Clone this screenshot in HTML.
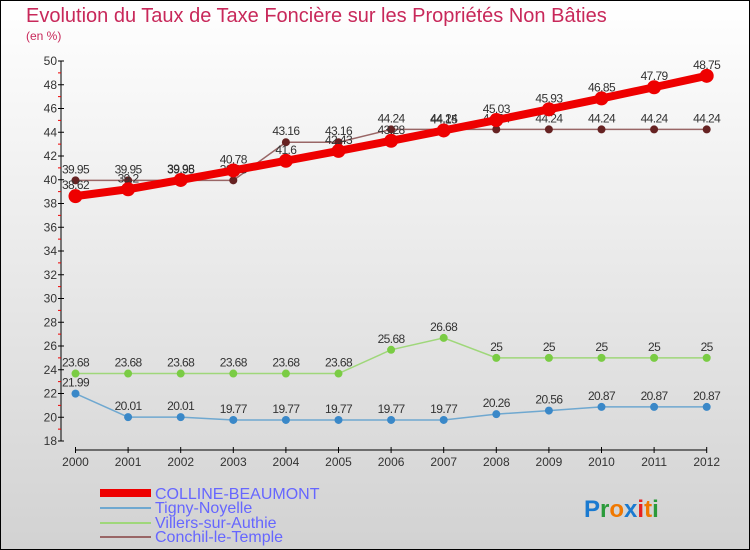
<!DOCTYPE html>
<html><head><meta charset="utf-8"><style>
body{margin:0}
svg{display:block;font-family:"Liberation Sans","DejaVu Sans",sans-serif}
</style></head><body>
<svg id="c" width="750" height="550" xmlns="http://www.w3.org/2000/svg">
<defs><linearGradient id="bg" x1="0" y1="0" x2="0" y2="1"><stop offset="0" stop-color="#ffffff"/><stop offset="1" stop-color="#d2d2d2"/></linearGradient></defs>
<rect x="0.5" y="0.5" width="749" height="549" fill="url(#bg)" stroke="#000"/>
<text x="26" y="22" font-size="20" fill="#c8285a">Evolution du Taux de Taxe Foncière sur les Propriétés Non Bâties</text>
<text x="26" y="40" font-size="12" fill="#c8285a">(en %)</text>
<g id="axes"></g><g id="series"></g>
<g>
<rect x="100" y="489" width="51" height="8" fill="#e00"/>
<text x="155" y="499" font-size="16" fill="#6666ff">COLLINE-BEAUMONT</text>
<line x1="100" y1="508" x2="151" y2="508" stroke="#6fa8d0" stroke-width="2"/>
<text x="155" y="513" font-size="16" fill="#6666ff">Tigny-Noyelle</text>
<line x1="100" y1="523" x2="151" y2="523" stroke="#9fd77a" stroke-width="2"/>
<text x="155" y="528" font-size="16" fill="#6666ff">Villers-sur-Authie</text>
<line x1="100" y1="537" x2="151" y2="537" stroke="#996666" stroke-width="2"/>
<text x="155" y="542" font-size="16" fill="#6666ff">Conchil-le-Temple</text>
</g>
<text x="584" y="517" font-size="24" font-weight="bold"><tspan fill="#1a7ad0">P</tspan><tspan fill="#2a9a3a">r</tspan><tspan fill="#f07800">o</tspan><tspan fill="#1a7ad0">x</tspan><tspan fill="#e82020">i</tspan><tspan fill="#f07800">t</tspan><tspan fill="#2a9a3a">i</tspan></text>
</svg>
<script>
const years=[2000,2001,2002,2003,2004,2005,2006,2007,2008,2009,2010,2011,2012];
const yTicks=[18,20,22,24,26,28,30,32,34,36,38,40,42,44,46,48,50];
const colline=[38.62,39.2,39.98,40.78,41.6,42.43,43.28,44.15,45.03,45.93,46.85,47.79,48.75];
const tigny=[21.99,20.01,20.01,19.77,19.77,19.77,19.77,19.77,20.26,20.56,20.87,20.87,20.87];
const villers=[23.68,23.68,23.68,23.68,23.68,23.68,25.68,26.68,25,25,25,25,25];
const conchil=[39.95,39.95,39.95,39.95,43.16,43.16,44.24,44.24,44.24,44.24,44.24,44.24,44.24];
const NS="http://www.w3.org/2000/svg";
const X=i=>75.5+i*52.6;
const Y=v=>441-(v-18)*11.875;
function mk(t,a,p){const e=document.createElementNS(NS,t);for(const k in a)e.setAttribute(k,a[k]);p.appendChild(e);return e;}
const ax=document.getElementById('axes'),se=document.getElementById('series');
let l=mk('line',{x1:61,y1:61,x2:61,y2:441,stroke:'#000'},ax);


l=mk('line',{x1:75,y1:450,x2:707,y2:450,stroke:'#000'},ax);


yTicks.forEach(v=>{
 mk('line',{x1:58,x2:64,y1:Y(v),y2:Y(v),stroke:'#000'},ax);
 if(v<50)mk('line',{x1:58,x2:61,y1:Y(v+1),y2:Y(v+1),stroke:'#e00'},ax);
 const t=mk('text',{x:57,y:Y(v)+4,'font-size':12,'text-anchor':'end',fill:'#333'},ax);t.textContent=v;
 
 
});
years.forEach((y,i)=>{
 mk('line',{x1:X(i),x2:X(i),y1:447,y2:453,stroke:'#000'},ax);
 const t=mk('text',{x:X(i),y:466,'font-size':12,'text-anchor':'middle',fill:'#333'},ax);t.textContent=y;
 
 
});
function series(d,name,col,w,r,fill){
 const g=mk('g',{},se);
 
 
 const p=mk('polyline',{points:d.map((v,i)=>X(i)+','+Y(v)).join(' '),fill:'none',stroke:col,'stroke-width':w},g);
 
 
 d.forEach((v,i)=>{
  const c=mk('circle',{cx:X(i),cy:Y(v),r:r,fill:fill},g);
  
  
  const t=mk('text',{x:X(i),y:Y(v)-7,'font-size':12,'text-anchor':'middle',fill:'#333','letter-spacing':'-0.6'},g);
  t.textContent=String(v);
  
  
 });
}
series(tigny,'tigny','#6fa8d0',1.5,4,'#3a88c8');
series(villers,'villers','#9fd77a',1.5,4,'#7acc44');
series(conchil,'conchil','#996666',1.5,4,'#662222');
series(colline,'colline','#ee0000',8,7,'#ee0000');
</script>
</body></html>
